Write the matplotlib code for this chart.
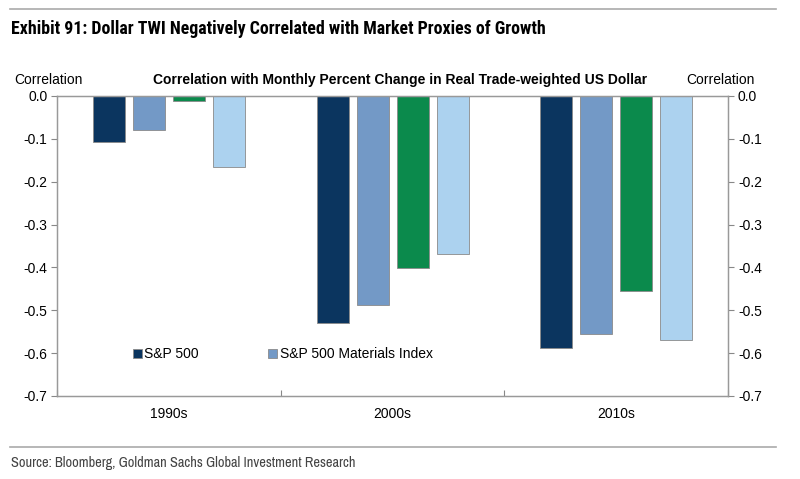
import numpy as np
import matplotlib.pyplot as plt
from matplotlib import font_manager

# === Data ===
decades = ["1990s", "2000s", "2010s"]
series_names = ["S&P 500", "S&P 500 Materials Index", "Series 3", "Series 4"]
sp500 = [-0.107, -0.530, -0.588]
materials = [-0.079, -0.488, -0.555]
series3 = [-0.012, -0.401, -0.455]
series4 = [-0.166, -0.369, -0.569]

colors = ["#0b355f", "#7399c6", "#0b8a4c", "#acd2ef"]

# pick a condensed font if one is installed (prefer one with a bold face)
narrow = "Liberation Sans"
narrow_bold = None
for f in font_manager.fontManager.ttflist:
    if "Narrow" in f.name or "Condensed" in f.name:
        if narrow == "Liberation Sans":
            narrow = f.name
        w = f.weight if isinstance(f.weight, int) else 400
        if f.weight == "bold" or w >= 700:
            narrow_bold = f.name
title_font = narrow_bold if narrow_bold else narrow
plt.rcParams["font.family"] = ["Liberation Sans", "DejaVu Sans"]

fig = plt.figure(figsize=(8, 4.79), dpi=100)
ax = fig.add_axes([0.07125, 0.1733, 0.839, 0.6263])

x = np.arange(len(decades))
width = 0.143
step = 0.179
all_series = [sp500, materials, series3, series4]
bars = []
for i, vals in enumerate(all_series):
    b = ax.bar(x + (i - 1.5) * step, vals, width, color=colors[i],
               edgecolor="#8a8a8a", linewidth=0.6, zorder=2)
    bars.append(b)

ax.set_xlim(-0.5, 2.5)
ax.set_ylim(-0.7, 0.0)
yt = np.round(np.arange(-0.7, 0.01, 0.1), 1)
ylabels = [f"{v:.1f}" if v != 0 else "0.0" for v in yt]
ax.set_yticks(yt)
ax.set_yticklabels(ylabels, fontsize=10)
ax.set_xticks([-0.5, 0.5, 1.5, 2.5])
ax.set_xticklabels([])
ax.set_xticks(x, minor=True)
ax.set_xticklabels(decades, minor=True, fontsize=10)
ax.tick_params(axis="x", which="minor", length=0, pad=8)
ax.tick_params(axis="x", which="major", direction="in", length=4, color="#888888")
ax.tick_params(axis="y", direction="out", length=4, color="#888888", pad=3)
for s in ax.spines.values():
    s.set_color("#999999")
    s.set_linewidth(1.0)

ax2 = ax.twinx()
ax2.set_ylim(-0.7, 0.0)
ax2.set_yticks(yt)
ax2.set_yticklabels(ylabels, fontsize=10)
ax2.tick_params(axis="y", direction="out", length=4, color="#888888", pad=3)
for s in ax2.spines.values():
    s.set_color("#999999")

ax.legend(bars[:2], series_names[:2], loc="lower left", bbox_to_anchor=(0.095, 0.075),
          ncol=2, frameon=False, fontsize=10, handlelength=0.6, handleheight=0.6,
          handletextpad=0.2, columnspacing=5.0)

# === Text ===
title = fig.text(0.014, 0.94, "Exhibit 91: Dollar TWI Negatively Correlated with Market Proxies of Growth",
                 family=title_font, fontsize=13, fontweight="bold", va="center", ha="left")
source = fig.text(0.014, 0.033, "Source: Bloomberg, Goldman Sachs Global Investment Research",
                  family=narrow, fontsize=9.5, color="#444444", va="center", ha="left")

# shrink the title / source to the widths they take in the original
fig.canvas.draw()
r = fig.canvas.get_renderer()
for t, target in [(title, 532), (source, 342)]:
    w = t.get_window_extent(r).width
    t.set_fontsize(t.get_fontsize() * target / w)

fig.text(0.5, 0.833, "Correlation with Monthly Percent Change in Real Trade-weighted US Dollar",
         fontsize=10, fontweight="bold", va="center", ha="center")
fig.text(0.06, 0.833, "Correlation", fontsize=10, va="center", ha="center")
fig.text(0.90, 0.833, "Correlation", fontsize=10, va="center", ha="center")

fig.add_artist(plt.Line2D([0.012, 0.97], [0.981, 0.981], color="#aaaaaa", lw=1.2))
fig.add_artist(plt.Line2D([0.012, 0.97], [0.067, 0.067], color="#aaaaaa", lw=1.2))

fig.savefig("out.png", dpi=100)
